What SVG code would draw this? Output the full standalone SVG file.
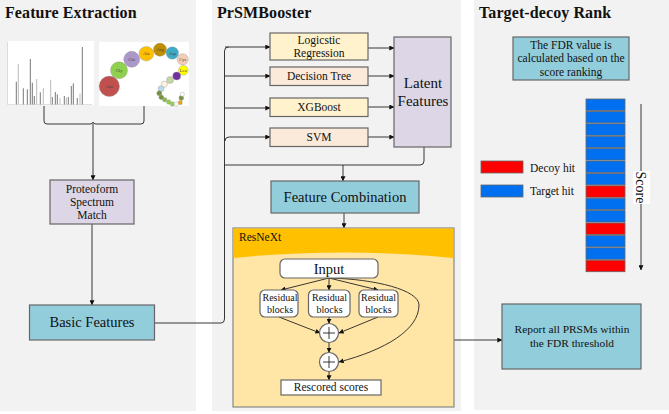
<svg xmlns="http://www.w3.org/2000/svg" width="669" height="414" viewBox="0 0 669 414">
<style>
text{font-family:"Liberation Serif","Times New Roman",serif;fill:#111;text-anchor:middle}
.title{font-weight:bold;font-size:16px;text-anchor:start;letter-spacing:.1px}
.panel{fill:#f2f2f2}
.box{stroke:#666;stroke-width:1.2}
.teal{fill:#92cddc}
.yellow{fill:#fff2cc}
.peach{fill:#fbe9d9}
.lilac{fill:#dcd6e6}
.white{fill:#fff}
.blue{fill:#0070f0;stroke:#666;stroke-width:.8}
.red{fill:#f00;stroke:#666;stroke-width:.8}
.link{fill:none;stroke:#222;stroke-width:.9}
.peak{stroke:#777;stroke-width:1}
.faint{stroke:#bbb;stroke-width:1}
.bub{stroke:#999;stroke-width:.4}
.aa{font-size:4.5px;fill:#444}
</style>
<defs>
<marker id="tip" viewBox="0 0 6 6" refX="5.6" refY="3" markerWidth="5" markerHeight="5" orient="auto" markerUnits="userSpaceOnUse"><path d="M0 0L6 3L0 6z" fill="#111"/></marker>
</defs>
<rect class="panel" x="0" y="0" width="196" height="411"/>
<rect class="panel" x="212" y="0" width="249" height="411"/>
<rect class="panel" x="474" y="0" width="195" height="410"/>
<text class="title" x="5" y="18">Feature Extraction</text>
<text class="title" x="217" y="18">PrSMBooster</text>
<text class="title" x="479" y="18">Target-decoy Rank</text>

<g id="spectrum">
<rect x="8" y="41" width="86" height="64" fill="#fff"/>
<path d="M7.500 42V104.500H92" fill="none" stroke="#ccc" stroke-width=".6"/>
<path class="peak" d="M16.300 104.500V81.700M23.300 104.500V88.300M27.300 104.500V89.300M30.300 104.500V59M32.300 104.500V82.700M34.300 104.500V96M40.300 104.500V92.300M52.300 104.500V97M55.300 104.500V92M57.300 104.500V94.300M64.300 104.500V96M68.300 104.500V97M71.300 104.500V86M73.300 104.500V83.300M77.300 104.500V98M82.300 104.500V47"/>
<path class="faint" d="M18.300 104.500V64M36.700 104.500V79M43.300 104.500V88M50.700 104.500V79.700M60 104.500V98.300M66.300 104.500V97.700M80 104.500V93.700"/>
</g>
<g id="residue-bubbles">
<rect x="99" y="42" width="90" height="64" fill="#fff"/>
<circle class="bub" cx="109.300" cy="86.300" r="10.200" fill="#c0504d"/>
<circle class="bub" cx="119" cy="70.300" r="8.500" fill="#8fd14f"/>
<circle class="bub" cx="131.700" cy="59.300" r="8" fill="#ab97c8"/>
<circle class="bub" cx="146.300" cy="53.700" r="7.300" fill="#ffc000"/>
<circle class="bub" cx="160" cy="49.700" r="6.600" fill="#bf8f00"/>
<circle class="bub" cx="172.300" cy="53" r="6.200" fill="#3eaac6"/>
<circle class="bub" cx="182.700" cy="59.300" r="5.600" fill="#f6cdb6"/>
<circle class="bub" cx="183.300" cy="70.300" r="4.900" fill="#ffff00"/>
<circle class="bub" cx="176.700" cy="76" r="4" fill="#7030a0"/>
<circle class="bub" cx="170" cy="80" r="3.500" fill="#c4d6a6"/>
<circle class="bub" cx="164.300" cy="84.300" r="3.200" fill="#fdf1dc"/>
<circle class="bub" cx="161" cy="88.700" r="3" fill="#b7dbe8"/>
<circle class="bub" cx="159.300" cy="93.300" r="2.500" fill="#76923c"/>
<circle class="bub" cx="161.300" cy="97.300" r="2.400" fill="#76923c"/>
<circle class="bub" cx="164.700" cy="99.700" r="2.300" fill="#8fb84a"/>
<circle class="bub" cx="168.700" cy="102" r="2.300" fill="#8fd14f"/>
<circle class="bub" cx="172.300" cy="104" r="2.200" fill="#8fd14f"/>
<circle class="bub" cx="176.300" cy="104" r="2.100" fill="#fff"/>
<circle class="bub" cx="180.300" cy="102.700" r="2.100" fill="#f0a000"/>
<circle class="bub" cx="181.300" cy="98" r="2.400" fill="#76923c"/>
<circle class="bub" cx="182.300" cy="94.300" r="2.100" fill="#fff"/>
<text class="aa" x="109.300" y="88">Asn</text>
<text class="aa" x="119" y="72">Gly</text>
<text class="aa" x="131.700" y="61">Gln</text>
<text class="aa" x="146.300" y="55.400">Ala</text>
<text class="aa" x="160" y="51.400">Arg</text>
<text class="aa" x="172.300" y="54.700">Asp</text>
<text class="aa" x="182.700" y="61">Cys</text>
<text class="aa" x="183.300" y="72" font-size="4">Leu</text>
</g>

<g id="connectors">
<path class="link" d="M44 106V121Q44 124 47 124H90Q93 124 93 122Q93 124 96 124H141Q144 124 144 121V106"/>
<path class="link" marker-end="url(#tip)" d="M93 124V180"/>
<path class="link" marker-end="url(#tip)" d="M92 224V305"/>
<path class="link" d="M155 323H221Q224.500 323 224.500 319V51Q224.500 47 228.500 47"/>
<path class="link" marker-end="url(#tip)" d="M225 47H270"/>
<path class="link" marker-end="url(#tip)" d="M225 76H270"/>
<path class="link" marker-end="url(#tip)" d="M225 108H270"/>
<path class="link" marker-end="url(#tip)" d="M225 141Q225 137 229 137H270"/>
<path class="link" marker-end="url(#tip)" d="M368 48H394"/>
<path class="link" marker-end="url(#tip)" d="M368 76H394"/>
<path class="link" marker-end="url(#tip)" d="M368 107H394"/>
<path class="link" marker-end="url(#tip)" d="M368 137H394"/>
<path class="link" d="M225 165H420Q424 165 424 161V147"/>
<path class="link" marker-end="url(#tip)" d="M343 165V181"/>
<path class="link" marker-end="url(#tip)" d="M344 213V228"/>
<path class="link" marker-end="url(#tip)" d="M454 340H502"/>
</g>

<g id="logistic-regression">
<rect class="box yellow" x="270" y="33" width="98" height="27"/>
<text x="319" y="44" font-size="11.500">Logicstic</text>
<text x="319" y="57" font-size="11.500">Regression</text>
</g>
<g id="decision-tree">
<rect class="box peach" x="270" y="67" width="98" height="18.500"/>
<text x="319" y="80" font-size="11.500">Decision Tree</text>
</g>
<g id="xgboost">
<rect class="box yellow" x="270" y="98" width="98" height="18.500"/>
<text x="319" y="111" font-size="11.500">XGBoost</text>
</g>
<g id="svm">
<rect class="box peach" x="270" y="128" width="98" height="18.500"/>
<text x="319" y="141" font-size="11.500">SVM</text>
</g>
<g id="latent-features">
<rect class="box lilac" x="394" y="37" width="57" height="110"/>
<text x="423" y="88" font-size="15">Latent</text>
<text x="423" y="106" font-size="15">Features</text>
</g>
<g id="feature-combination">
<rect class="box teal" x="271" y="181" width="148" height="32"/>
<text x="345" y="202" font-size="14.500">Feature Combination</text>
</g>
<g id="proteoform-spectrum-match">
<rect class="box lilac" x="50" y="180" width="84" height="44"/>
<text x="92" y="193" font-size="11.500">Proteoform</text>
<text x="92" y="206" font-size="11.500">Spectrum</text>
<text x="92" y="219" font-size="11.500">Match</text>
</g>
<g id="basic-features">
<rect class="box teal" x="29.500" y="305" width="125" height="35"/>
<text x="92" y="327" font-size="14.500">Basic Features</text>
</g>

<g id="resnext">
<rect x="233" y="228" width="221" height="179" fill="#ffe6a6" stroke="#888" stroke-width="1.200"/>
<path d="M233.600 228.600H453.400V258Q400 252.500 345 252.500Q285 252.500 233.600 258z" fill="#ffc000"/>
<text x="239" y="241" font-size="11.500" style="text-anchor:start">ResNeXt</text>
<path class="link" marker-end="url(#tip)" d="M329 278L281 290"/>
<path class="link" marker-end="url(#tip)" d="M329 278V290"/>
<path class="link" marker-end="url(#tip)" d="M329 278L378 290"/>
<path class="link" marker-end="url(#tip)" d="M279 317L320 333"/>
<path class="link" marker-end="url(#tip)" d="M329 317V323.500"/>
<path class="link" marker-end="url(#tip)" d="M378 317L339 333"/>
<path class="link" marker-end="url(#tip)" d="M329 342.500V352.500"/>
<path class="link" marker-end="url(#tip)" d="M329 278C375 279 419 290 419 305C419 330 385 350 339 362"/>
<path class="link" marker-end="url(#tip)" d="M329 371.500V380"/>
</g>
<g id="input">
<rect class="box white" x="280" y="259" width="98" height="19" rx="5"/>
<text x="329" y="274" font-size="14.500">Input</text>
</g>
<g id="residual-blocks-1">
<rect class="box white" x="260" y="290" width="38" height="27" rx="5"/>
<text x="280" y="301" font-size="10">Residual</text>
<text x="280" y="313" font-size="10">blocks</text>
</g>
<g id="residual-blocks-2">
<rect class="box white" x="308.500" y="290" width="41.500" height="27" rx="5"/>
<text x="329.500" y="301" font-size="10">Residual</text>
<text x="329.500" y="313" font-size="10">blocks</text>
</g>
<g id="residual-blocks-3">
<rect class="box white" x="359" y="290" width="39" height="27" rx="5"/>
<text x="378.500" y="301" font-size="10">Residual</text>
<text x="378.500" y="313" font-size="10">blocks</text>
</g>
<g id="sum-1">
<circle class="box white" cx="329" cy="333" r="9.500"/>
<path d="M323 333H335M329 327V339" stroke="#222" stroke-width=".9"/>
</g>
<g id="sum-2">
<circle class="box white" cx="329" cy="362" r="9.500"/>
<path d="M323 362H335M329 356V368" stroke="#222" stroke-width=".9"/>
</g>
<g id="rescored-scores">
<rect class="box white" x="281" y="380" width="100" height="15"/>
<text x="331" y="391" font-size="11.500">Rescored scores</text>
</g>

<g id="fdr-note">
<rect class="box teal" x="513" y="37" width="116" height="43"/>
<text x="571" y="49" font-size="11.500">The FDR value is</text>
<text x="571" y="62" font-size="11.500">calculated based on the</text>
<text x="571" y="76" font-size="11.500">score ranking</text>
</g>
<g id="ranked-hits">
<rect class="blue" x="586" y="99" width="39" height="11.500"/>
<rect class="blue" x="586" y="111.400" width="39" height="11.500"/>
<rect class="blue" x="586" y="123.800" width="39" height="11.500"/>
<rect class="blue" x="586" y="136.200" width="39" height="11.500"/>
<rect class="blue" x="586" y="148.600" width="39" height="11.500"/>
<rect class="blue" x="586" y="161" width="39" height="11.500"/>
<rect class="blue" x="586" y="173.400" width="39" height="11.500"/>
<rect class="red" x="586" y="185.800" width="39" height="11.500"/>
<rect class="blue" x="586" y="198.200" width="39" height="11.500"/>
<rect class="blue" x="586" y="210.600" width="39" height="11.500"/>
<rect class="red" x="586" y="223" width="39" height="11.500"/>
<rect class="blue" x="586" y="235.400" width="39" height="11.500"/>
<rect class="blue" x="586" y="247.800" width="39" height="11.500"/>
<rect class="red" x="586" y="260.200" width="39" height="11.500"/>
</g>
<g id="score-axis">
<path class="link" marker-end="url(#tip)" d="M641 104V270"/>
<rect x="633" y="171" width="17" height="33" fill="#fff"/>
<text transform="translate(636,187.500) rotate(90)" font-size="14">Score</text>
</g>
<g id="legend-decoy">
<rect class="red" x="481" y="161" width="42" height="12"/>
<text x="530" y="172" font-size="11.500" style="text-anchor:start">Decoy hit</text>
</g>
<g id="legend-target">
<rect class="blue" x="481" y="185" width="42" height="12"/>
<text x="530" y="195" font-size="11.500" style="text-anchor:start">Target hit</text>
</g>
<g id="report">
<rect class="box teal" x="502" y="304" width="139" height="65"/>
<text x="572" y="333" font-size="11.400">Report all PRSMs within</text>
<text x="572" y="347" font-size="11.400">the FDR threshold</text>
</g>
</svg>
